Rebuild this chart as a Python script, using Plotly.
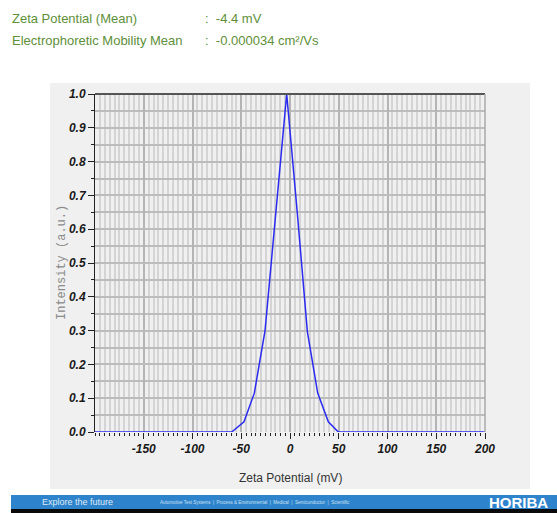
import plotly.graph_objects as go

# ---- data ----
zeta_mv = [-200, -59.8, -47.2, -36.6, -25.6, -14.4, -3.4, 7.5, 17.8, 28.4, 39.3, 49.6, 200]
intensity = [0, 0, 0.03, 0.115, 0.30, 0.665, 1.0, 0.648, 0.297, 0.115, 0.03, 0, 0]
x_ticks = [-150, -100, -50, 0, 50, 100, 150, 200]
y_ticks = [0.0, 0.1, 0.2, 0.3, 0.4, 0.5, 0.6, 0.7, 0.8, 0.9, 1.0]
header_labels = ["Zeta Potential (Mean)", "Electrophoretic Mobility Mean"]
header_values = [":  -4.4 mV", ":  -0.000034 cm²/Vs"]

W, H = 557, 513
def px(x): return x / W
def py(y): return 1 - y / H

fig = go.Figure()
fig.add_trace(go.Scatter(x=zeta_mv, y=intensity, mode="lines",
                         line=dict(color="#2b2bf0", width=1.5),
                         hoverinfo="skip", showlegend=False))

tickfont = dict(family="Liberation Sans, Arial", size=12, color="#1a1a1a",
                weight="bold", style="italic")

fig.update_layout(
    width=W, height=H, margin=dict(l=0, r=0, t=0, b=0, autoexpand=False),
    paper_bgcolor="white", plot_bgcolor="white",
    xaxis=dict(domain=[px(95), px(485)], range=[-200, 200], automargin=False,
               tickvals=x_ticks, ticktext=[str(v) for v in x_ticks],
               ticks="outside", ticklen=6, tickcolor="#222", tickwidth=1,
               showgrid=True, gridcolor="#b4b4b4", gridwidth=1.5,
               minor=dict(dtick=5, tick0=0, showgrid=True, gridcolor="#d4d4d4", gridwidth=1.5,
                          ticks="outside", ticklen=3, tickcolor="#222"),
               showline=False, zeroline=False, tickfont=tickfont),
    yaxis=dict(domain=[py(432), py(94)], range=[0, 1.0], automargin=False,
               tickvals=y_ticks, ticktext=[f"{v:.1f}" for v in y_ticks],
               ticks="outside", ticklen=6, tickcolor="#222", tickwidth=1,
               showgrid=True, gridcolor="#bcbcbc", gridwidth=1.5,
               minor=dict(dtick=0.05, tick0=0, showgrid=True, gridcolor="#bcbcbc", gridwidth=1.5,
                          ticks="outside", ticklen=3, tickcolor="#222"),
               showline=True, linecolor="#222", linewidth=1, zeroline=False,
               tickfont=tickfont),
)

shapes = [
    # grey panel
    dict(type="rect", xref="paper", yref="paper", x0=px(50), x1=px(530), y0=py(489), y1=py(83),
         fillcolor="#f0f0f0", line=dict(width=0), layer="below"),
    # top border
    dict(type="line", xref="paper", yref="paper", x0=px(95), x1=px(485), y0=py(94), y1=py(94),
         line=dict(color="#555555", width=2)),
    # right border
    dict(type="line", xref="paper", yref="paper", x0=px(485), x1=px(485), y0=py(432), y1=py(94),
         line=dict(color="#aaaaaa", width=1.5)),
    # banner
    dict(type="rect", xref="paper", yref="paper", x0=px(11), x1=1, y0=py(509), y1=py(495),
         fillcolor="#2d84cc", line=dict(width=0)),
    dict(type="rect", xref="paper", yref="paper", x0=px(11), x1=1, y0=0, y1=py(509),
         fillcolor="#0a0a0a", line=dict(width=0)),
]
fig.update_layout(shapes=shapes)

green = "#5e8f3a"
ann = []
for i, (lab, val) in enumerate(zip(header_labels, header_values)):
    yy = 19 + i * 21
    ann.append(dict(text=lab, x=px(10), y=py(yy), xref="paper", yref="paper",
                    xanchor="left", yanchor="middle", showarrow=False,
                    font=dict(family="Liberation Sans, Arial", size=13, color=green)))
    ann.append(dict(text=val, x=px(203), y=py(yy), xref="paper", yref="paper",
                    xanchor="left", yanchor="middle", showarrow=False,
                    font=dict(family="Liberation Sans, Arial", size=13, color=green)))
ann.append(dict(text="Zeta Potential (mV)", x=px(290), y=py(478), xref="paper", yref="paper",
                xanchor="center", yanchor="middle", showarrow=False,
                font=dict(family="Liberation Sans, Arial", size=12, color="#333333")))
ann.append(dict(text="Intensity (a.u.)", x=px(62), y=py(263), xref="paper", yref="paper",
                xanchor="center", yanchor="middle", showarrow=False, textangle=-90,
                font=dict(family="Liberation Mono, DejaVu Sans Mono", size=12, color="#8a8a8a")))
ann.append(dict(text="Explore the future", x=px(40), y=py(502), xref="paper", yref="paper",
                xanchor="left", yanchor="middle", showarrow=False,
                font=dict(family="Liberation Sans, Arial", size=9, color="#dfe9f5")))
ann.append(dict(text="Automotive Test Systems  |  Process & Environmental  |  Medical  |  Semiconductor  |  Scientific",
                x=px(158), y=py(502), xref="paper", yref="paper",
                xanchor="left", yanchor="middle", showarrow=False,
                font=dict(family="Liberation Sans, Arial", size=4.5, color="#cfe0f2")))
ann.append(dict(text="<b>HORIBA</b>", x=px(550), y=py(502), xref="paper", yref="paper",
                xanchor="right", yanchor="middle", showarrow=False,
                font=dict(family="Liberation Sans, Arial", size=15, color="white")))
fig.update_layout(annotations=ann)

fig.write_html("out.html")
